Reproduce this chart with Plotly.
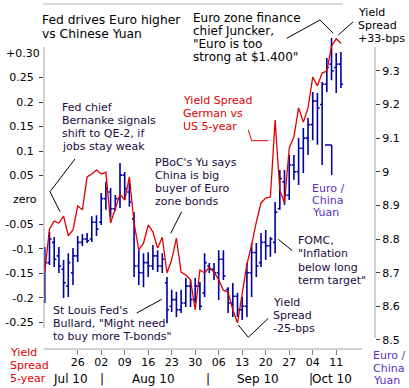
import plotly.graph_objects as go
import pandas as pd

# ---------------- data ----------------
dates = pd.bdate_range("2010-07-15", "2010-10-12")

spread = [-0.147, -0.059, -0.043, -0.047, -0.033, -0.073, -0.061, -0.012, -0.020, 0.047,
          0.053, 0.061, 0.053, 0.057, -0.047, -0.018, 0.012, 0.000, 0.047, -0.047,
          -0.102, -0.088, -0.051, -0.065, -0.098, -0.076, -0.149, -0.122, -0.078, -0.147,
          -0.153, -0.163, -0.224, -0.143, -0.149, -0.137, -0.147, -0.163, -0.184, -0.188,
          -0.224, -0.251, -0.190, -0.131, -0.092, -0.045, -0.006, 0.004, 0.006, 0.163,
          0.020, -0.006, 0.106, 0.129, 0.188, 0.159, 0.188, 0.251, 0.233, 0.259,
          0.263, 0.314, 0.329, 0.320]

eur_open = [8.64, 8.73, 8.79, 8.75, 8.71, 8.66, 8.70, 8.75, 8.79, 8.80,
            8.80, 8.85, 8.85, 8.92, 8.94, 8.89, 8.92, 8.99, 8.94, 8.86,
            8.72, 8.70, 8.73, 8.72, 8.75, 8.72, 8.67, 8.60, 8.62, 8.59,
            8.61, 8.66, 8.62, 8.66, 8.64, 8.72, 8.71, 8.70, 8.74, 8.65,
            8.61, 8.63, 8.59, 8.60, 8.70, 8.76, 8.73, 8.79, 8.78, 8.79,
            8.89, 8.97, 8.93, 9.02, 9.00, 9.07, 9.10, 9.14, 9.21, 9.20,
            9.26, 9.32, 9.31, 9.32]
eur_high = [8.776, 8.821, 8.806, 8.776, 8.738, 8.758, 8.773, 8.809, 8.815, 8.818,
            8.868, 8.871, 8.937, 8.970, 8.952, 8.931, 9.026, 8.999, 8.967, 8.880,
            8.767, 8.758, 8.761, 8.782, 8.767, 8.758, 8.687, 8.649, 8.643, 8.649,
            8.684, 8.678, 8.684, 8.672, 8.758, 8.729, 8.729, 8.767, 8.767, 8.657,
            8.669, 8.640, 8.628, 8.729, 8.788, 8.788, 8.818, 8.827, 8.806, 8.910,
            9.005, 9.005, 9.050, 9.050, 9.100, 9.130, 9.160, 9.237, 9.234, 9.267,
            9.338, 9.398, 9.353, 9.356]
eur_low = [8.610, 8.723, 8.717, 8.699, 8.625, 8.628, 8.663, 8.732, 8.779, 8.788,
           8.791, 8.809, 8.842, 8.887, 8.863, 8.884, 8.892, 8.916, 8.896, 8.687,
           8.663, 8.657, 8.687, 8.708, 8.702, 8.699, 8.550, 8.583, 8.568, 8.580,
           8.598, 8.598, 8.610, 8.589, 8.628, 8.699, 8.678, 8.619, 8.678, 8.580,
           8.568, 8.568, 8.559, 8.568, 8.628, 8.687, 8.717, 8.738, 8.747, 8.758,
           8.887, 8.901, 8.916, 8.976, 8.961, 8.996, 9.050, 9.094, 9.080, 9.020,
           9.237, 9.272, 9.234, 9.249]
eur_close = [8.73, 8.80, 8.74, 8.72, 8.67, 8.73, 8.75, 8.79, 8.80, 8.795,
             8.85, 8.83, 8.92, 8.95, 8.89, 8.92, 8.99, 8.95, 8.91, 8.72,
             8.70, 8.73, 8.72, 8.75, 8.72, 8.74, 8.59, 8.62, 8.59, 8.61,
             8.66, 8.62, 8.66, 8.60, 8.73, 8.71, 8.70, 8.74, 8.69, 8.61,
             8.63, 8.59, 8.60, 8.70, 8.76, 8.72, 8.79, 8.78, 8.80, 8.88,
             8.98, 8.93, 9.02, 9.00, 9.07, 9.10, 9.14, 9.21, 9.19, 9.26,
             9.31, 9.30, 9.32, 9.26]

x_tick_dates = ["2010-07-26", "2010-08-02", "2010-08-09", "2010-08-16", "2010-08-23",
                "2010-08-30", "2010-09-06", "2010-09-13", "2010-09-20", "2010-09-27",
                "2010-10-04", "2010-10-11"]
x_tick_text = ["26", "02", "09", "16", "23", "30", "06", "13", "20", "27", "04", "11"]

left_tickvals = [0.25, 0.2, 0.15, 0.1, 0.05, -0.05, -0.1, -0.15, -0.2, -0.25]
left_ticktext = ["0.25", "0.2", "0.15", "0.1", "0.05", "-0.05", "-0.1", "-0.15", "-0.2", "-0.25"]
right_tickvals = [9.3, 9.2, 9.1, 9.0, 8.9, 8.8, 8.7, 8.6, 8.5]
right_ticktext = ["9.3", "9.2", "9.1", "9", "8.9", "8.8", "8.7", "8.6", "8.5"]

# ---------------- styling ----------------
FONT = "DejaVu Sans"
BLUE = "#0000a0"
RED = "#e00000"
PURPLE = "#5b2fc0"
DARK = "#1a0a40"
AXIS_GRAY = "#a0a0a0"

W, H = 409, 388
ML, MR, MT, MB = 44, 34, 36, 39
PW, PH = W - ML - MR, H - MT - MB


def P(x, y):
    return (x - ML) / PW, (H - MB - y) / PH


fig = go.Figure()
fig.add_trace(go.Ohlc(x=dates, open=eur_open, high=eur_high, low=eur_low, close=eur_close,
                      yaxis="y", increasing=dict(line=dict(color=BLUE, width=1.6)),
                      decreasing=dict(line=dict(color=BLUE, width=1.6)),
                      tickwidth=0.45, hoverinfo="skip"))
fig.add_trace(go.Scatter(x=dates, y=spread, yaxis="y2", mode="lines",
                         line=dict(color=RED, width=1.3), hoverinfo="skip"))

shapes = []


def seg(points, color="black", width=1):
    for (x0, y0), (x1, y1) in zip(points[:-1], points[1:]):
        a0, b0 = P(x0, y0)
        a1, b1 = P(x1, y1)
        shapes.append(dict(type="line", xref="paper", yref="paper", x0=a0, y0=b0, x1=a1, y1=b1,
                           line=dict(color=color, width=width), layer="above"))


# axis lines / frame
seg([(44, 47), (44, 328)], AXIS_GRAY)
seg([(375, 47), (375, 338)], AXIS_GRAY)
seg([(44, 349), (362, 349)], AXIS_GRAY)
seg([(43, 4), (343, 4)], "#b4b4b4")

# pointers
seg([(286.7, 38.3), (320, 20), (333.3, 33.3)])
seg([(353.3, 21.7), (338.3, 35)])
seg([(75, 159), (50, 191.7), (60, 211.7)])
seg([(181.7, 211.7), (170.7, 233.3)])
seg([(136.7, 313), (161.7, 299.3)])
seg([(278.3, 239.3), (292.3, 250.7)])
seg([(238.3, 325), (248.3, 337.3), (268.3, 318.3)])
seg([(248.3, 130), (251.7, 140.7), (268.3, 140.7)], RED)
seg([(325, 145), (331.7, 145), (331.7, 175)], BLUE, 1.5)

annotations = []


def txt(x, y, s, size=11, color=DARK, anchor="left"):
    a, b = P(x, y)
    annotations.append(dict(x=a, y=b, xref="paper", yref="paper", text=s, showarrow=False,
                            xanchor=anchor, yanchor="middle",
                            font=dict(family=FONT, size=size, color=color)))


def block(x, ys, lines, size=11, color=DARK, anchor="left"):
    for y, s in zip(ys, lines):
        txt(x, y, s, size, color, anchor)


block(40, [19.5, 34], ["Fed drives Euro higher", "vs Chinese Yuan"], 12.3, "black")
block(191, [18, 31, 44, 57], ["Euro zone finance", "chief Juncker,", "\"Euro is too",
                              "strong at $1.400\""], 12, "black")
block(356, [12.7, 25.7, 38.3], ["Yield", "Spread", "+33-bps"], 11, "black")
block(59.5, [107.3, 120.3, 133.3, 146.3], ["Fed chief", "Bernanke signals", "shift to QE-2, if",
                                          "jobs stay weak"])
block(153, [162.3, 175.3, 188.3, 201.3], ["PBoC's Yu says", "China is big", "buyer of Euro",
                                         "zone bonds"])
block(51, [310.7, 323.7, 336.7], ["St Louis Fed's", "Bullard, \"Might need",
                                  "to buy more T-bonds\""])
block(295.7, [240, 253.7, 267, 280], ["FOMC,", "\"Inflation", "below long", "term target\""])
block(270.5, [302, 315, 328], ["Yield", "Spread", "-25-bps"])
block(181, [100, 113.3, 126.5], ["Yield Spread", "German vs", "US 5-year"], 11, RED)
block(310, [188.5, 200.8, 212.8], ["Euro /", "China", "Yuan"], 11, PURPLE)
block(7.5, [352, 365, 378], ["Yield", "Spread", "5-year"], 11, RED)
block(371, [355, 368, 380], ["Euro /", "China", "Yuan"], 11, PURPLE)

# month row
for xc, s in [(70.8, "Jul 10"), (153.3, "Aug 10"), (258.3, "Sep 10"), (332, "Oct 10")]:
    txt(xc, 378.5, s, 12, "black", "center")
for xc in [101.7, 207.7, 311]:
    txt(xc, 378.5, "|", 12, "black", "center")

# custom left labels without ticks
txt(42, 53, "+0.30", 11, "black", "right")
txt(38.5, 200, "zero", 11, "black", "right")

fig.update_layout(
    width=W, height=H,
    margin=dict(l=ML, r=MR, t=MT, b=MB, pad=0, autoexpand=False),
    paper_bgcolor="white", plot_bgcolor="white",
    showlegend=False,
    font=dict(family=FONT, size=11, color="black"),
    shapes=shapes, annotations=annotations,
    xaxis=dict(type="date", range=["2010-07-14 20:00", "2010-10-21 06:00"],
               rangebreaks=[dict(bounds=["sat", "mon"])],
               tickvals=x_tick_dates, ticktext=x_tick_text,
               ticks="outside", ticklen=5, tickcolor="#808080",
               ticklabelstandoff=-2,
               tickfont=dict(family=FONT, size=11, color="black"),
               showgrid=False, zeroline=False, showline=False,
               rangeslider=dict(visible=False), fixedrange=True),
    yaxis=dict(side="right", range=[8.4731, 9.4036],
               tickvals=right_tickvals, ticktext=right_ticktext,
               ticks="outside", ticklen=4, tickcolor="#404040",
               tickfont=dict(family=FONT, size=11, color="black"),
               showgrid=False, zeroline=False, showline=False),
    yaxis2=dict(side="left", overlaying="y", range=[-0.3041, 0.3347],
                tickvals=left_tickvals, ticktext=left_ticktext,
                ticks="outside", ticklen=4, tickcolor="#404040",
                ticklabelstandoff=3,
                tickfont=dict(family=FONT, size=11, color="black"),
                showgrid=False, zeroline=False, showline=False),
)

fig.write_html("out.html", config={"displayModeBar": False},
               post_script="document.body.style.margin='0';document.body.style.padding='0';"
                           "document.body.style.overflow='hidden';")
